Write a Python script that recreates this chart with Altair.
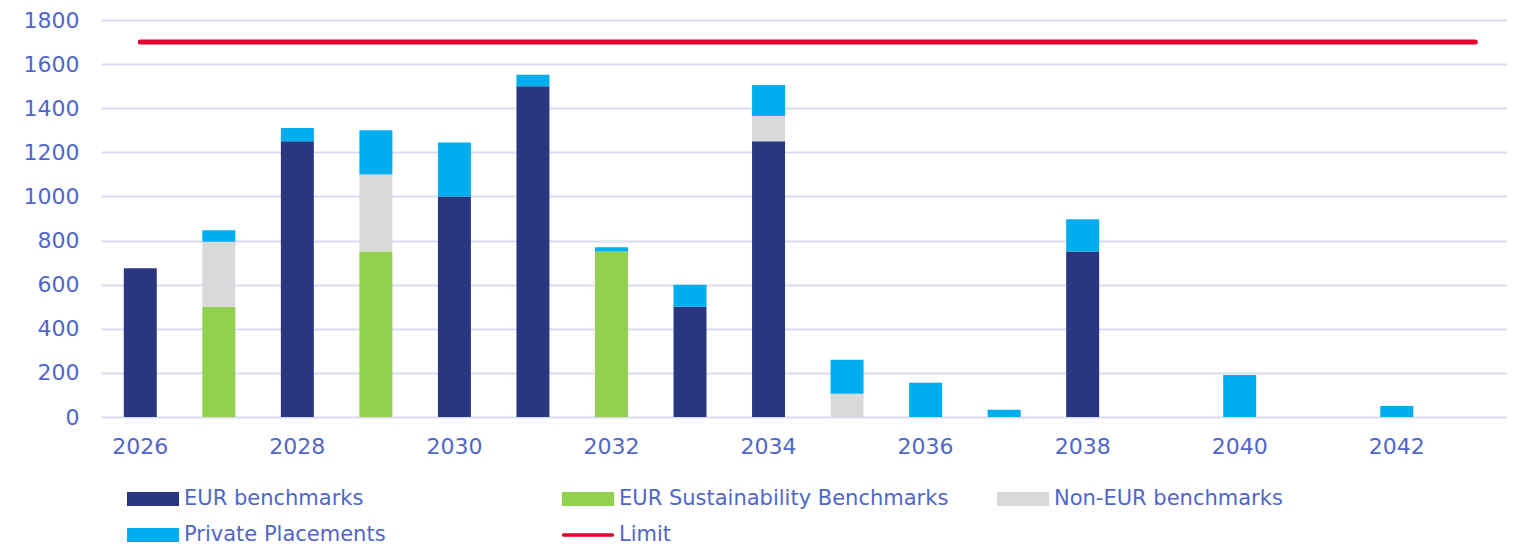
import altair as alt
import pandas as pd

years = list(range(2026, 2044))
eur_benchmarks = [675, 0, 1250, 0, 1000, 1500, 0, 500, 1250, 0, 0, 0, 750, 0, 0, 0, 0, 0]
eur_sustainability = [0, 500, 0, 750, 0, 0, 750, 0, 0, 0, 0, 0, 0, 0, 0, 0, 0, 0]
non_eur = [0, 295, 0, 350, 0, 0, 0, 0, 115, 105, 0, 0, 0, 0, 0, 0, 0, 0]
private_placements = [0, 52, 60, 200, 245, 52, 20, 100, 140, 155, 155, 33, 147, 0, 190, 0, 50, 0]
limit_value = 1700

series_names = ["EUR benchmarks", "EUR Sustainability Benchmarks", "Non-EUR benchmarks",
                "Private Placements", "Limit"]
series_colors = ["#283780", "#92D050", "#D9D9D9", "#00AEEF", "#E4032E"]
x_tick_labels = [2026, 2028, 2030, 2032, 2034, 2036, 2038, 2040, 2042]

rows = []
for i, y in enumerate(years):
    for k, (name, vals) in enumerate(zip(series_names[:4],
                                         [eur_benchmarks, eur_sustainability, non_eur, private_placements])):
        rows.append({"year": y, "series": name, "value": vals[i], "order": k})
bars_df = pd.DataFrame(rows)
limit_df = pd.DataFrame({"year": years, "series": "Limit", "value": limit_value})

TXT = "#5066CA"
FONT = "DejaVu Sans"

RECT = "M-1,-0.27H1V0.27H-1Z"
PILL = "M-0.94,-0.065H0.94A0.065,0.065 0 0 1 0.94,0.065H-0.94A0.065,0.065 0 0 1 -0.94,-0.065Z"

color = alt.Color(
    "series:N",
    scale=alt.Scale(domain=series_names, range=series_colors),
    legend=alt.Legend(
        title=None, orient="none", legendX=26, legendY=453, direction="horizontal",
        columns=3, gridAlign="all", columnPadding=47, rowPadding=-18,
        symbolType={"expr": f"datum.value === 'Limit' ? '{PILL}' : '{RECT}'"},
        symbolSize=2704, symbolStrokeWidth=0,
        labelFontSize=21, labelColor=TXT, labelFont=FONT, labelOffset=5, labelLimit=500,
    ),
)

x = alt.X("year:O", title=None,
          scale=alt.Scale(paddingInner=0.58, paddingOuter=0.242, align=0.6),
          axis=alt.Axis(values=x_tick_labels, labelAngle=0, ticks=False, domain=False,
                        labelFontSize=22, labelColor=TXT, labelFont=FONT, labelPadding=19,
                        grid=False))
y = alt.Y("value:Q", title=None, stack="zero",
          scale=alt.Scale(domain=[0, 1800], nice=False),
          axis=alt.Axis(values=list(range(0, 1801, 200)), format="d", ticks=False, domain=False,
                        labelFontSize=22, labelColor=TXT, labelFont=FONT, labelPadding=22,
                        gridColor="#D9DBF1", gridWidth=2))

bars = alt.Chart(bars_df).mark_bar().encode(
    x=x, y=y, color=color, order=alt.Order("order:Q"))

limit = alt.Chart(limit_df).mark_line(strokeWidth=5, strokeCap="round").encode(
    x=alt.X("year:O"), y=alt.Y("value:Q"), color=alt.Color("series:N"))

chart = alt.layer(bars, limit).properties(
    width=1406, height=397,
    autosize=alt.AutoSizeParams(type="none"),
    padding={"left": 93, "top": 12, "right": 0, "bottom": 129},
).configure_view(stroke=None)

chart.save("out.html", embed_options={"renderer": "svg", "actions": False})
